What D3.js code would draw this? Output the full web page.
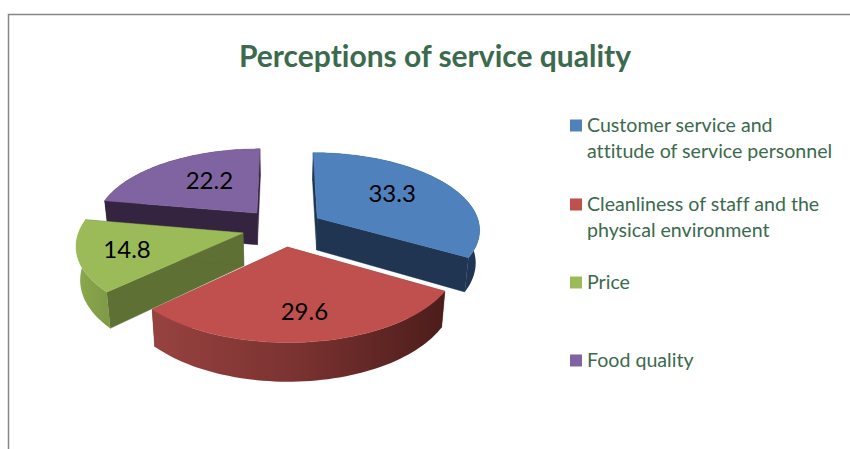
<!DOCTYPE html>
<html><head><meta charset="utf-8">
<script src="https://cdn.jsdelivr.net/npm/d3@7"></script>
<style>html,body{margin:0;padding:0;background:#fff;overflow:hidden}svg{display:block}text{font-family:Lato,"Open Sans",sans-serif;font-variant-ligatures:none;font-feature-settings:"liga" 0}</style>
</head><body>
<script>
const titleText = "Perceptions of service quality";
const categories = ["Customer service and|attitude of service personnel","Cleanliness of staff and the|physical environment","Price","Food quality"];
const values = [33.3, 29.6, 14.8, 22.2];
const topColors = ["#4f81bd","#c0504d","#9bbb59","#8064a2"];
const wallColors = ["#1f3552","#7a3230","#5e7034","#35243f"];
const rimStops = [["#1f3552","#1f3552"],["#974240","#7a3230","#4c1d1b"],["#8ba94e","#7f9b46"],["#35243f","#35243f"]];
const legendY = [125, 204, 282, 360];
const labelR = [0.57, 0.71, 0.72, 0.57];
const labelNudge = [[0,-4],[1,0],[2,0],[6,-2]];

const W = 850, H = 449;
const cx = 282.5, cy = 227.4, a = 163, b = 76.6, k = 0.136, depth = 32.5, shrink = 0.98, explode = 0.25;

const svg = d3.select("body").append("svg").attr("width", W).attr("height", H);
const defs = svg.append("defs");

svg.append("path").attr("d", `M8.5,${H}V14.5H${W}`).attr("fill","none").attr("stroke","#868686").attr("stroke-width",1.5);

svg.append("text").attr("x",435).attr("y",67).attr("text-anchor","middle")
  .attr("font-size",30).attr("font-weight",700).attr("fill","#3b6a4d").text(titleText);

const pie = d3.pie().sort(null).value(d => d);
const arcs = pie(values);

function project(u, v, z) {
  const s = 1 / (1 - k * v);
  const x = a * u * s, y = b * v * s;
  return z ? [cx + x * shrink, cy + y + depth * s] : [cx + x, cy + y];
}
const dir = t => [Math.sin(t), -Math.cos(t)];
const line = d3.line();

const slices = arcs.map((d, i) => {
  const mid = (d.startAngle + d.endAngle) / 2, m = dir(mid);
  const ax = m[0] * explode, ay = m[1] * explode;
  const ts = d3.range(0, 61).map(j => d.startAngle + (d.endAngle - d.startAngle) * j / 60);
  const outer = z => ts.map(t => { const p = dir(t); return project(ax + p[0], ay + p[1], z); });
  return {i, d, mid, ax, ay, outer};
});

const order = [0, 3, 1, 2];
order.forEach(i => {
  const s = slices[i], g = svg.append("g");
  const apexT = project(s.ax, s.ay, false), apexB = project(s.ax, s.ay, true);
  const top = s.outer(false), bot = s.outer(true);
  const wall = (pt, pb) => g.append("path").attr("d", line([apexT, pt, pb, apexB]) + "Z")
    .attr("fill", wallColors[i]).attr("stroke", wallColors[i]).attr("stroke-width", 0.4);
  wall(top[0], bot[0]);
  wall(top[top.length-1], bot[bot.length-1]);

  const xs = top.map(p => p[0]);
  const id = "rim" + i;
  const grad = defs.append("linearGradient").attr("id", id).attr("gradientUnits","userSpaceOnUse")
    .attr("x1", d3.min(xs)).attr("x2", d3.max(xs)).attr("y1", 0).attr("y2", 0);
  rimStops[i].forEach((c, j, arr) => grad.append("stop").attr("offset", j / (arr.length - 1)).attr("stop-color", c));
  g.append("path").attr("d", line(top.concat(bot.slice().reverse())) + "Z").attr("fill", `url(#${id})`);

  g.append("path").attr("d", line([apexT].concat(top)) + "Z").attr("fill", topColors[i])
    .attr("stroke", topColors[i]).attr("stroke-width", 0.4);
});

slices.forEach(s => {
  const p = dir(s.mid), r = labelR[s.i];
  const q = project(s.ax + p[0] * r, s.ay + p[1] * r, false);
  const n = labelNudge[s.i];
  svg.append("text").attr("x", q[0] + n[0]).attr("y", q[1] + n[1]).attr("dy", "0.35em").attr("text-anchor","middle")
    .attr("font-size", 24).attr("fill","#000").text(values[s.i].toFixed(1));
});

categories.forEach((c, i) => {
  svg.append("rect").attr("x",570).attr("y",legendY[i]-5.5).attr("width",12).attr("height",12).attr("fill",topColors[i]);
  c.split("|").forEach((t, j) => {
    svg.append("text").attr("x",587).attr("y",legendY[i] + j * 26).attr("dy","0.35em")
      .attr("font-size",19.6).attr("fill","#3b6a4d").text(t);
  });
});
</script>
</body></html>
